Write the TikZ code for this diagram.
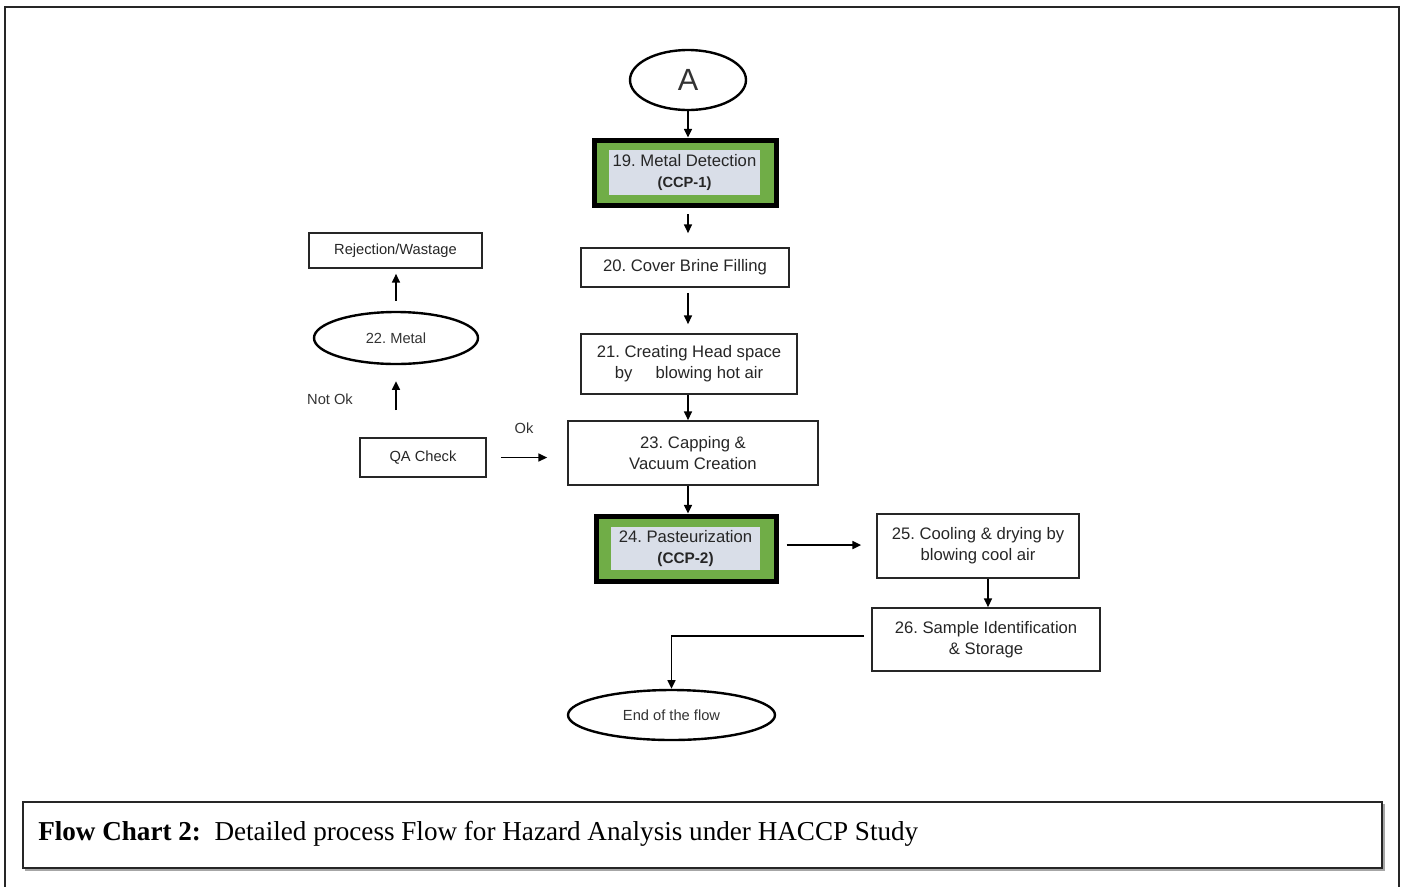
\documentclass[tikz,border=0pt]{standalone}
\usepackage{fontspec}
\setmainfont{Liberation Sans}
\newfontfamily\capfont{Liberation Serif}
\usetikzlibrary{shapes.geometric,arrows.meta}
\definecolor{ccpgreen}{HTML}{70AD47}
\definecolor{ccpinner}{HTML}{D9DEE8}
\frenchspacing
\begin{document}
\frenchspacing
\begin{tikzpicture}[x=0.75pt,y=-0.75pt,
 box/.style={draw=black!85,line width=1.3pt,rectangle,align=center,inner sep=0pt,font=\fontsize{12.5}{15.75}\selectfont,text=black!85},
 smallbox/.style={box,font=\fontsize{11}{13}\selectfont},
 oval/.style={draw=black,line width=1.8pt,ellipse,inner sep=0pt,align=center,text=black!80},
 ccp/.style={draw=black,line width=3.75pt,fill=ccpgreen,rectangle,inner sep=0pt},
 ccpin/.style={fill=ccpinner,rectangle,inner sep=0pt,align=center,font=\fontsize{12.5}{15.75}\selectfont,text=black!85},
 arr/.style={draw=black,line width=1.1pt,-{Triangle[length=6.5pt,width=6pt]}},
 lbl/.style={font=\fontsize{11}{12}\selectfont,text=black!80,inner sep=0pt}
]
\useasboundingbox (0,0) rectangle (1402,886);
% outer frame
\draw[line width=1.5pt,black!85] (5,900) -- (5,7) -- (1399,7) -- (1399,900);
% caption box
\draw[line width=1pt,black!35] (25,870) -- (1384,870) -- (1384,804);
\draw[line width=1.4pt,black!85] (23,802) rectangle (1382,868);
\node[anchor=west,inner sep=0pt] (cap) at (38,834) {\resizebox{660pt}{\height}{\capfont\fontsize{20.5}{24}\selectfont\textbf{Flow Chart 2:}\ \ Detailed process Flow for Hazard Analysis under HACCP Study}};

% nodes
\node[oval,minimum width=87pt,minimum height=45pt,font=\fontsize{23}{26}\selectfont] (A) at (688,80) {\raisebox{-2pt}{A}};
\node[ccp,minimum width=136.5pt,minimum height=48.75pt] (n19) at (685,172.5) {};
\node[ccpin,minimum width=113.25pt,minimum height=33.75pt] (n19i) at (684.5,172.5) {19. Metal Detection\\{\fontsize{11}{13}\selectfont\bfseries (CCP-1)}};
\node[box,minimum width=156pt,minimum height=29.25pt] (n20) at (685,267.5) {20. Cover Brine Filling};
\node[box,minimum width=162pt,minimum height=45pt] (n21) at (689,364) {21. Creating Head space\\by\hspace{1.4em}blowing hot air};
\node[box,minimum width=187.5pt,minimum height=48pt] (n23) at (693,453) {23. Capping \&\\Vacuum Creation};
\node[ccp,minimum width=135pt,minimum height=48.75pt] (n24) at (686,548.5) {};
\node[ccpin,minimum width=111.75pt,minimum height=32.25pt] (n24i) at (685.5,548.5) {24. Pasteurization\\{\fontsize{11.5}{13}\selectfont\bfseries (CCP-2)}};
\node[box,minimum width=151.5pt,minimum height=48pt] (n25) at (978,546) {25. Cooling \& drying by\\blowing cool air};
\node[box,minimum width=171pt,minimum height=47.25pt] (n26) at (986,639.5) {26. Sample Identification\\\& Storage};
\node[oval,minimum width=155.25pt,minimum height=37.5pt,font=\fontsize{11}{13}\selectfont] (end) at (671.5,715) {End of the flow};
\node[smallbox,minimum width=129.75pt,minimum height=26.25pt] (rej) at (395.5,250.5) {Rejection/Wastage};
\node[oval,minimum width=123pt,minimum height=39pt,font=\fontsize{11}{13}\selectfont] (metal) at (396,338) {22. Metal};
\node[smallbox,minimum width=94.5pt,minimum height=29.25pt] (qa) at (423,457.5) {QA Check};
\node[lbl] (notok) at (330,399) {Not Ok};
\node[lbl] (ok) at (524,428) {Ok};

% connectors
\draw[arr] (A.south) -- (A.south |- n19.north);
\draw[arr,shorten <=5pt,shorten >=10.5pt] (n19.south -| A.south) -- (n20.north -| A.south);
\draw[arr,shorten <=3.75pt,shorten >=6.75pt] (n20.south -| A.south) -- (n21.north -| A.south);
\draw[arr] (n21.south -| A.south) -- (n23.north -| A.south);
\draw[arr] (n23.south -| A.south) -- (n24.north -| A.south);
\draw[arr,shorten <=6pt,shorten >=11.25pt] ([yshift=2.6pt]n24.east) -- ([yshift=2.6pt]n24.east -| n25.west);
\draw[arr] ([xshift=7.5pt]n25.south) -- ([xshift=7.5pt]n25.south |- n26.north);
\draw[arr] ([xshift=-5.25pt,yshift=2.6pt]n26.west) -| (end.north);
\draw[arr,shorten <=7.5pt,shorten >=3.75pt] (metal.north) -- (metal.north |- rej.south);
\draw[arr,shorten <=20.25pt,shorten >=12pt] (metal.south |- qa.north) -- (metal.south);
\draw[arr,shorten <=10.5pt,shorten >=15pt] (qa.east) -- (qa.east -| n23.west);
\end{tikzpicture}
\end{document}
